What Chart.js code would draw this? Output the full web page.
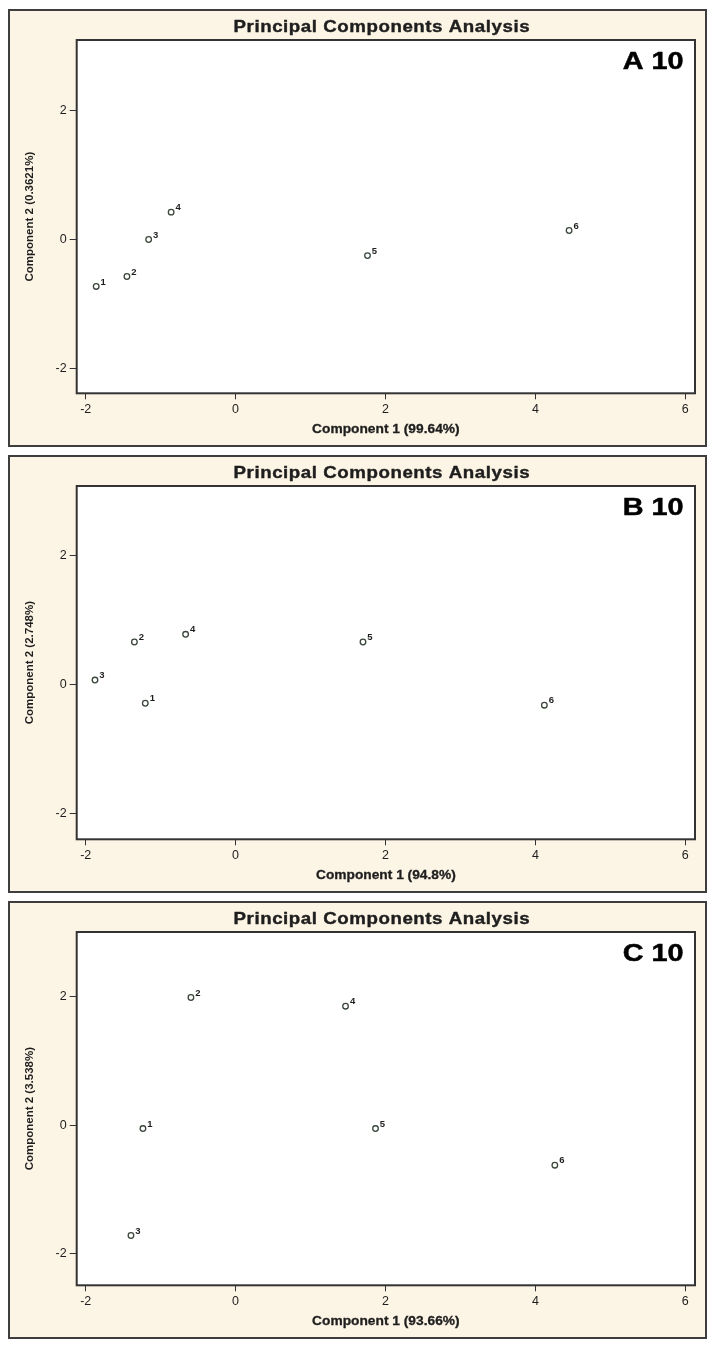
<!DOCTYPE html>
<html>
<head>
<meta charset="utf-8">
<title>Principal Components Analysis</title>
<script src="https://cdn.jsdelivr.net/npm/chart.js@4.4.1/dist/chart.umd.min.js"></script>
<style>
  body { margin: 0; background: #ffffff; width: 716px; height: 1350px; position: relative; }
  .panel {
    position: absolute;
    left: 8px;
    width: 699px;
    height: 438px;
    box-sizing: border-box;
    border: 2px solid #3e3e3e;
    background: #fcf4e5;
  }
  .panel canvas { display: block; }
</style>
</head>
<body>
<div class="panel" style="top:9px"><canvas id="pcaA" width="695" height="434"></canvas></div>
<div class="panel" style="top:455px"><canvas id="pcaB" width="695" height="434"></canvas></div>
<div class="panel" style="top:901px"><canvas id="pcaC" width="695" height="434"></canvas></div>

<script>
// Observation numbers shown next to each point
const obsLabels = ['1', '2', '3', '4', '5', '6'];

// Panel A scores
const aComp1 = [-1.86, -1.45, -1.16, -0.86, 1.76, 4.45];
const aComp2 = [-0.73, -0.575, 0.0, 0.425, -0.25, 0.14];

// Panel B scores
const bComp1 = [-1.205, -1.35, -1.876, -0.667, 1.70, 4.12];
const bComp2 = [-0.29, 0.66, 0.07, 0.78, 0.66, -0.32];

// Panel C scores
const cComp1 = [-1.236, -0.596, -1.396, 1.467, 1.867, 4.26];
const cComp2 = [-0.05, 1.99, -1.715, 1.855, -0.05, -0.62];

// Axis ticks
const xTickValues = [-2, 0, 2, 4, 6];
const yTickValues = [-2, 0, 2];

// Text
const chartTitle = 'Principal Components Analysis';
const panelTags = ['A 10', 'B 10', 'C 10'];
const xTitles = ['Component 1 (99.64%)', 'Component 1 (94.8%)', 'Component 1 (93.66%)'];
const yTitles = ['Component 2 (0.3621%)', 'Component 2 (2.748%)', 'Component 2 (3.538%)'];

const fontFamily = '"Liberation Sans", Arial, sans-serif';
const inkColor = '#1e1e1e';
const markerColor = '#3b473b';

// text drawn a bit wider than the font, like the original graphic
function wideText(ctx, text, x, y, sx, weight) {
    ctx.save();
    ctx.translate(x, y);
    ctx.scale(sx, 1);
    ctx.fillText(text, 0, 0);
    if (weight) {
        ctx.lineWidth = weight;
        ctx.strokeStyle = ctx.fillStyle;
        ctx.strokeText(text, 0, 0);
    }
    ctx.restore();
}

// plot area background, frame, titles, tag and point labels
const pcaDecor = {
    id: 'pcaDecor',
    beforeDraw(chart) {
        const a = chart.chartArea;
        const ctx = chart.ctx;
        ctx.save();
        ctx.fillStyle = '#ffffff';
        ctx.fillRect(a.left, a.top, a.right - a.left, a.bottom - a.top);
        ctx.restore();
    },
    afterDraw(chart, args, opts) {
        const a = chart.chartArea;
        const ctx = chart.ctx;
        const midX = (a.left + a.right) / 2;
        ctx.save();
        ctx.strokeStyle = '#333333';
        ctx.lineWidth = 2;
        ctx.strokeRect(a.left, a.top, a.right - a.left, a.bottom - a.top);

        ctx.textBaseline = 'middle';
        ctx.textAlign = 'center';
        ctx.fillStyle = inkColor;

        // main title
        ctx.font = 'bold 17px ' + fontFamily;
        ctx.letterSpacing = '0.5px';
        wideText(ctx, chartTitle, midX - 4, 16, 1.1, 0.4);

        // x axis title
        ctx.font = 'bold 12.5px ' + fontFamily;
        ctx.letterSpacing = '0px';
        wideText(ctx, opts.xTitle, midX, chart.height - 15, 1.1, 0.3);

        // y axis title (rotated)
        ctx.save();
        ctx.translate(19.5, (a.top + a.bottom) / 2);
        ctx.rotate(-Math.PI / 2);
        ctx.font = 'bold 11.5px ' + fontFamily;
        ctx.fillText(opts.yTitle, 0, 0);
        ctx.restore();

        // panel tag
        ctx.fillStyle = '#000000';
        ctx.font = 'bold 24px ' + fontFamily;
        ctx.textAlign = 'right';
        wideText(ctx, opts.tag, a.right - 11.5, a.top + 22, 1.2, 0.5);

        // point labels
        ctx.font = 'bold 9.5px ' + fontFamily;
        ctx.textAlign = 'center';
        ctx.fillStyle = inkColor;
        const meta = chart.getDatasetMeta(0);
        meta.data.forEach((pt, i) => {
            ctx.fillText(obsLabels[i], pt.x + 7, pt.y - 4.5);
        });
        ctx.restore();
    }
};

function makePanel(id, xs, ys, tag, xTitle, yTitle, yMin, yMax) {
    const ctx = document.getElementById(id);
    return new Chart(ctx, {
        type: 'scatter',
        data: {
            datasets: [{
                data: xs.map((x, i) => ({ x: x, y: ys[i] })),
                pointStyle: 'circle',
                pointRadius: 2.8,
                pointBorderWidth: 1.3,
                borderColor: markerColor,
                backgroundColor: 'rgba(255,255,255,0)'
            }]
        },
        options: {
            responsive: false,
            animation: false,
            events: [],
            layout: {
                padding: { top: 29, right: 10, left: 0, bottom: 0 }
            },
            plugins: {
                legend: { display: false },
                tooltip: { enabled: false },
                pcaDecor: { tag: tag, xTitle: xTitle, yTitle: yTitle }
            },
            scales: {
                x: {
                    type: 'linear',
                    min: -2.12,
                    max: 6.13,
                    afterBuildTicks: function (scale) {
                        scale.ticks = xTickValues.map(v => ({ value: v }));
                    },
                    afterFit: function (scale) {
                        scale.height = 51.7;
                    },
                    grid: {
                        drawOnChartArea: false,
                        drawTicks: true,
                        tickLength: 6,
                        tickColor: '#333333',
                        tickWidth: 1
                    },
                    border: { display: false },
                    ticks: {
                        color: inkColor,
                        padding: 3,
                        maxRotation: 0,
                        font: { family: fontFamily, size: 12.5 }
                    }
                },
                y: {
                    type: 'linear',
                    min: yMin,
                    max: yMax,
                    afterBuildTicks: function (scale) {
                        scale.ticks = yTickValues.map(v => ({ value: v }));
                    },
                    afterFit: function (scale) {
                        scale.width = 66.7;
                    },
                    grid: {
                        drawOnChartArea: false,
                        drawTicks: true,
                        tickLength: 7,
                        tickColor: '#333333',
                        tickWidth: 1
                    },
                    border: { display: false },
                    ticks: {
                        color: inkColor,
                        padding: 3,
                        font: { family: fontFamily, size: 12.5 }
                    }
                }
            }
        },
        plugins: [pcaDecor]
    });
}

makePanel('pcaA', aComp1, aComp2, panelTags[0], xTitles[0], yTitles[0], -2.39, 3.1);
makePanel('pcaB', bComp1, bComp2, panelTags[1], xTitles[1], yTitles[1], -2.40, 3.08);
makePanel('pcaC', cComp1, cComp2, panelTags[2], xTitles[2], yTitles[2], -2.49, 3.01);
</script>
</body>
</html>
